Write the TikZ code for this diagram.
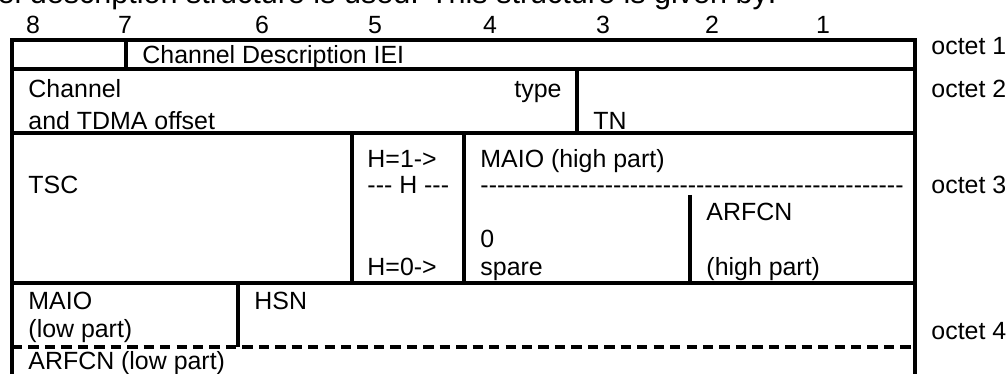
\documentclass[tikz,border=0pt]{standalone}
\usepackage{fontspec}
\setmainfont{Liberation Sans}
\usepackage{tikz}
\usetikzlibrary{positioning}

\tikzset{
  lbl/.style={inner sep=0pt, anchor=base west, font=\fontsize{10.6}{12.7}\selectfont},
  rule/.style={line width=1.4pt},
}
\newcommand{\hy}{\mbox{-}}
\newcommand{\hyrow}[1]{\foreach \i in {1,...,#1}{\hy}}

\begin{document}
\begin{tikzpicture}[x=0.4255pt, y=-0.4255pt]
\useasboundingbox (0,0) rectangle (1007,374);

% sentence above the table, cut by the top edge
\node[lbl, anchor=base east, font=\fontsize{13}{15}\selectfont] (intro) at (777,4) {channel description structure is used. This structure is given by:};

% bit numbers
\foreach \b/\x in {8/33,7/125,6/262,5/375,4/490,3/603,2/712,1/823}
  \node[lbl, anchor=base] (bit\b) at (\x,34) {\b};

% frame and rules
\draw[rule] (12,374) -- (12,40) -- (915,40) -- (915,374);
\draw[rule] (12,69) -- (915,69);
\draw[rule] (12,133) -- (915,133);
\draw[rule] (12,283) -- (915,283);
\draw[rule] (126,40) -- (126,69);
\draw[rule] (577,69) -- (577,133);
\draw[rule] (352,133) -- (352,283);
\draw[rule] (464,133) -- (464,283);
\draw[rule] (690,195) -- (690,283);
\draw[rule] (238,283) -- (238,347);
\draw[rule, dash pattern=on 4.4pt off 2.6pt] (12,347) -- (915,347);

% octet 1 and 2
\node[lbl] (iei) at (142,64) {Channel Description IEI};
\node[lbl] (chan) at (28,98) {Channel};
\node[lbl, anchor=base east] (type) at (562,98) {type};
\node[lbl] (tdma) at (28,130) {and TDMA offset};
\node[lbl] (tn) at (593,130) {TN};

% octet 3
\node[lbl] (hone) at (367,168) {H=1->};
\node[lbl] (maiohi) at (480,168) {MAIO (high part)};
\node[lbl] (tsc) at (28,194) {TSC};
\node[lbl] (hbit) at (367,194) {\hy\hy\hy{} H \hy\hy\hy};
\node[lbl] (hline) at (480,194) {\hyrow{51}};
\node[lbl] (arfcnhi) at (706,221) {ARFCN};
\node[lbl] (zero) at (480,248) {0};
\node[lbl] (hzero) at (367,276) {H=0->};
\node[lbl] (spare) at (480,276) {spare};
\node[lbl] (highpart) at (706,276) {(high part)};

% octet 4
\node[lbl] (maiolo) at (28,310) {MAIO};
\node[lbl] (hsn) at (254,310) {HSN};
\node[lbl] (lowpart) at (28,338) {(low part)};
\node[lbl] (arfcnlo) at (28,370) {ARFCN (low part)};

% octet numbers
\node[lbl] (oct1) at (931,55) {octet 1};
\node[lbl] (oct2) at (931,98) {octet 2};
\node[lbl] (oct3) at (931,194) {octet 3};
\node[lbl] (oct4) at (931,340) {octet 4};

\end{tikzpicture}
\end{document}
